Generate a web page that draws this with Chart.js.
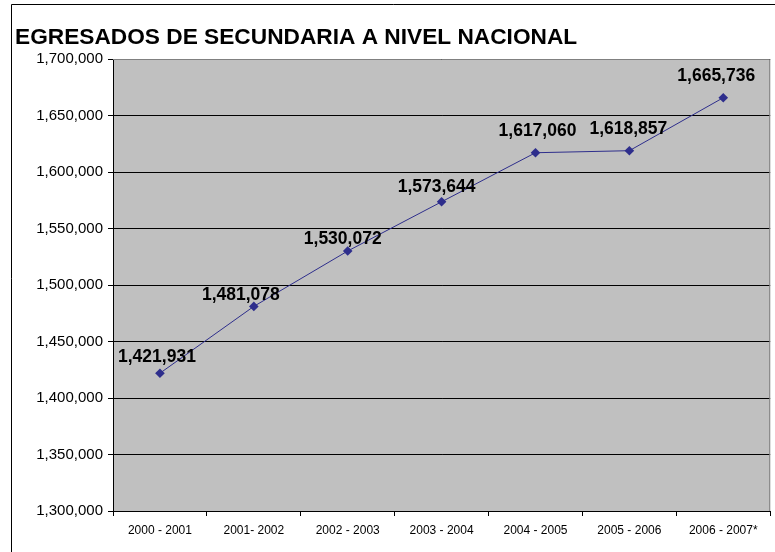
<!DOCTYPE html>
<html>
<head>
<meta charset="utf-8">
<script src="https://cdn.jsdelivr.net/npm/chart.js@4.4.1/dist/chart.umd.min.js"></script>
<style>
  html, body { margin: 0; padding: 0; background: #fff; }
  #wrap { width: 775px; height: 552px; position: relative; }
</style>
</head>
<body>
<div id="wrap"><canvas id="c" width="775" height="552"></canvas></div>
<script>
// Ciclos escolares
const ciclos = ["2000 - 2001", "2001- 2002", "2002 - 2003", "2003 - 2004", "2004 - 2005", "2005 - 2006", "2006 - 2007*"];
// Egresados de secundaria
const egresados = [1421931, 1481078, 1530072, 1573644, 1617060, 1618857, 1665736];
// Eje Y
const yMin = 1300000;
const yMax = 1700000;
const yStep = 50000;

const titulo = "EGRESADOS DE SECUNDARIA A NIVEL NACIONAL";

// desplazamiento de etiquetas respecto al punto (solo estilo)
const labelShift = [[-3, -16], [-13, -11], [-5, -12], [-5, -15], [2, -22], [-1, -22], [-7, -22]];

const fmt = (v) => v.toLocaleString("en-US");

const fondoPlugin = {
  id: "fondo",
  beforeDraw(chart) {
    const { ctx, chartArea: a } = chart;
    ctx.save();
    ctx.fillStyle = "#fff";
    ctx.fillRect(0, 0, chart.width, chart.height);
    // marco exterior
    ctx.strokeStyle = "#000";
    ctx.lineWidth = 1;
    ctx.beginPath();
    ctx.moveTo(11.5, chart.height);
    ctx.lineTo(11.5, 4.5);
    ctx.lineTo(chart.width, 4.5);
    ctx.stroke();
    // area de trazado
    ctx.fillStyle = "#c0c0c0";
    ctx.fillRect(a.left, a.top, a.right - a.left, a.bottom - a.top);
    ctx.restore();
  },
  afterDraw(chart) {
    const { ctx, chartArea: a } = chart;
    ctx.save();
    ctx.strokeStyle = "#808080";
    ctx.lineWidth = 1;
    ctx.beginPath();
    ctx.moveTo(a.left, a.top + 0.5);
    ctx.lineTo(a.right - 0.5, a.top + 0.5);
    ctx.lineTo(a.right - 0.5, a.bottom);
    ctx.stroke();
    // titulo
    ctx.fillStyle = "#000";
    ctx.font = "bold 22.7px 'Liberation Sans', Arial, sans-serif";
    ctx.textBaseline = "middle";
    ctx.textAlign = "left";
    ctx.fillText(titulo, 15, 38);
    // etiquetas de datos
    ctx.font = "bold 17.5px 'Liberation Sans', Arial, sans-serif";
    ctx.textAlign = "center";
    const meta = chart.getDatasetMeta(0);
    meta.data.forEach((pt, i) => {
      const s = labelShift[i] || [0, -16];
      ctx.fillText(fmt(egresados[i]), pt.x + s[0], pt.y + s[1]);
    });
    ctx.restore();
  },
};

new Chart(document.getElementById("c"), {
  type: "line",
  data: {
    labels: ciclos,
    datasets: [
      {
        data: egresados,
        borderColor: "#2e2e8c",
        borderWidth: 1,
        backgroundColor: "#2e2e8c",
        pointStyle: "rectRot",
        pointRadius: 4.8,
        pointBorderWidth: 0,
        tension: 0,
      },
    ],
  },
  options: {
    responsive: false,
    animation: false,
    devicePixelRatio: 1,
    layout: { padding: { top: 59, left: 0, right: 4, bottom: 0 } },
    plugins: {
      legend: { display: false },
      tooltip: { enabled: false },
      title: { display: false },
    },
    scales: {
      x: {
        offset: true,
        afterFit(scale) { scale.height = 41; },
        grid: {
          offset: true,
          drawOnChartArea: false,
          drawTicks: true,
          tickLength: 5,
          color: "#000",
        },
        border: { color: "#000", width: 1 },
        ticks: {
          color: "#000",
          padding: 7,
          maxRotation: 0,
          autoSkip: false,
          font: { family: "'Liberation Sans Narrow', 'Liberation Sans', Arial", size: 12 },
        },
      },
      y: {
        min: yMin,
        max: yMax,
        afterFit(scale) { scale.width = 113; },
        grid: {
          color: "#000",
          lineWidth: 1,
          tickLength: 5,
        },
        border: { color: "#000", width: 1 },
        ticks: {
          stepSize: yStep,
          color: "#000",
          padding: 5,
          font: { family: "'Liberation Sans', Arial", size: 15 },
          callback: (v) => fmt(v),
        },
      },
    },
  },
  plugins: [fondoPlugin],
});
</script>
</body>
</html>
